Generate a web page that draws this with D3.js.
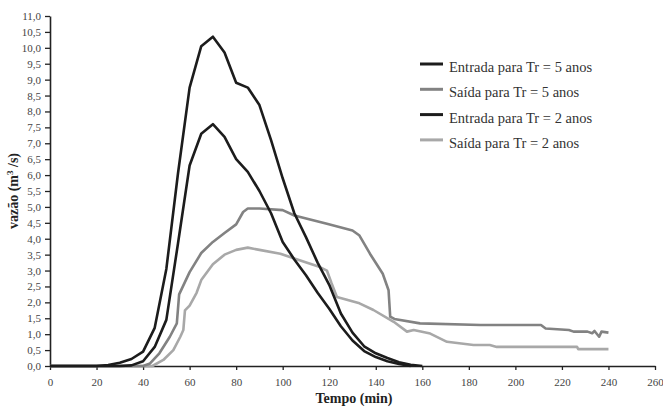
<!DOCTYPE html>
<html>
<head>
<meta charset="utf-8">
<script src="https://cdn.jsdelivr.net/npm/d3@7"></script>
<style>
  body { margin: 0; background: #fff; }
  text { font-family: "Liberation Serif", "DejaVu Serif", serif; }
</style>
</head>
<body>
<div id="chart-area"></div>
<script>
// hydrographs: entrada / saída for Tr = 5 and Tr = 2 anos
var entrada5T = [0, 20, 25, 30, 35, 40, 45, 50, 55, 60, 65, 70, 75, 80, 85, 90, 95, 100, 105, 110, 115, 120, 125, 130, 135, 140, 145, 150, 155, 160];
var entrada5Q = [0, 0, 0.03, 0.1, 0.22, 0.45, 1.2, 3.05, 6.05, 8.75, 10.05, 10.35, 9.85, 8.9, 8.75, 8.2, 7.1, 5.9, 4.8, 4.05, 3.25, 2.55, 1.65, 1.05, 0.62, 0.4, 0.25, 0.12, 0.04, 0];

var saida5T = [0, 40, 43, 47, 51.5, 54.5, 55.5, 60, 65, 70, 75, 80, 83, 85, 90, 100, 105, 119, 130, 133, 137.5, 143, 145.5, 146.2, 148, 159, 185, 211, 213, 223, 225, 231, 233, 234, 236, 237, 240];
var saida5Q = [0, 0, 0.08, 0.4, 0.92, 1.34, 2.25, 2.95, 3.55, 3.9, 4.18, 4.45, 4.84, 4.95, 4.95, 4.9, 4.73, 4.47, 4.26, 4.1, 3.53, 2.9, 2.38, 1.55, 1.48, 1.34, 1.29, 1.29, 1.18, 1.13, 1.08, 1.08, 1.03, 1.1, 0.92, 1.08, 1.05];

var entrada2T = [0, 30, 35, 40, 45, 50, 55, 60, 65, 70, 75, 80, 85, 90, 95, 100, 105, 110, 115, 120, 125, 130, 135, 140, 145, 150, 155];
var entrada2Q = [0, 0, 0.02, 0.15, 0.6, 1.45, 3.85, 6.3, 7.3, 7.6, 7.2, 6.5, 6.1, 5.5, 4.8, 3.9, 3.35, 2.85, 2.3, 1.8, 1.25, 0.8, 0.47, 0.28, 0.15, 0.06, 0];

var saida2T = [0, 44, 48.7, 53, 56, 57.3, 58, 60, 63, 65, 70, 75, 80, 85, 90, 99, 105, 116, 119, 121, 123.3, 133, 139, 147.7, 153.4, 156.3, 163.4, 170.6, 182, 189, 192, 226.5, 227, 240];
var saida2Q = [0, 0, 0.19, 0.5, 0.92, 1.13, 1.75, 1.9, 2.3, 2.7, 3.2, 3.5, 3.65, 3.72, 3.65, 3.53, 3.38, 3.11, 3.0, 2.6, 2.17, 1.97, 1.76, 1.39, 1.08, 1.13, 1.02, 0.76, 0.66, 0.66, 0.6, 0.6, 0.53, 0.53];

var seriesNames = ["Entrada para Tr = 5 anos", "Saída para Tr = 5 anos", "Entrada para Tr = 2 anos", "Saída para Tr = 2 anos"];
var seriesColours = ["#1c1c1c", "#828282", "#1c1c1c", "#a8a8a8"];

var xTicks = d3.range(0, 261, 20);
var yTicks = d3.range(0, 11.01, 0.5);

var width = 663, height = 415;
var margin = { left: 50, right: 8, top: 16, bottom: 49 };

var svg = d3.select("#chart-area")
    .append("svg")
    .attr("width", width)
    .attr("height", height);

var x = d3.scaleLinear()
    .domain([0, 260])
    .range([margin.left, width - margin.right]);

var y = d3.scaleLinear()
    .domain([0, 11])
    .range([height - margin.bottom, margin.top]);

var fmt = function(d){ return d3.format(".1f")(d).replace(".", ","); };

// Y Axis
var yAxisG = svg.append("g")
    .attr("transform", "translate(" + margin.left + ",0)")
    .call(d3.axisLeft(y).tickValues(yTicks).tickFormat(fmt).tickSize(5).tickPadding(4).tickSizeOuter(0));

// X Axis
var xAxisG = svg.append("g")
    .attr("transform", "translate(0," + (height - margin.bottom) + ")")
    .call(d3.axisBottom(x).tickValues(xTicks).tickSize(4).tickPadding(8).tickSizeOuter(0));

[yAxisG, xAxisG].forEach(function(a){
    a.select(".domain").attr("stroke", "#222").attr("stroke-width", 1.6);
    a.selectAll(".tick line").attr("stroke", "#222").attr("stroke-width", 1.3);
    a.selectAll(".tick text")
        .attr("fill", "#444")
        .style("font-family", "'Liberation Serif', serif")
        .style("font-size", "11px");
});

// curves
var line = d3.line()
    .x(function(d){ return x(d[0]); })
    .y(function(d){ return y(d[1]); });

var series = [
    d3.zip(entrada5T, entrada5Q),
    d3.zip(saida5T, saida5Q),
    d3.zip(entrada2T, entrada2Q),
    d3.zip(saida2T, saida2Q)
];

// draw light ones first so black stays on top
[3, 1, 2, 0].forEach(function(i){
    svg.append("path")
        .datum(series[i])
        .attr("fill", "none")
        .attr("stroke", seriesColours[i])
        .attr("stroke-width", 2.6)
        .attr("stroke-linejoin", "round")
        .attr("d", line);
});

// axis titles
svg.append("text")
    .attr("x", 354)
    .attr("y", 403)
    .attr("text-anchor", "middle")
    .style("font-weight", "bold")
    .style("font-size", "14px")
    .attr("fill", "#222")
    .text("Tempo (min)");

var yTitle = svg.append("text")
    .attr("transform", "translate(18,191) rotate(-90)")
    .attr("text-anchor", "middle")
    .style("font-weight", "bold")
    .style("font-size", "14px")
    .attr("fill", "#222");
yTitle.append("tspan").text("vazão (m");
yTitle.append("tspan").attr("dy", -5).style("font-size", "9px").text("3");
yTitle.append("tspan").attr("dy", 5).text(" /s)");

// legend
var legend = svg.append("g")
    .attr("transform", "translate(420,64)");
seriesNames.forEach(function(name, i){
    var row = legend.append("g")
        .attr("transform", "translate(0," + (i * 25.3) + ")");
    row.append("line")
        .attr("x1", 0).attr("x2", 23)
        .attr("y1", 0).attr("y2", 0)
        .attr("stroke", seriesColours[i])
        .attr("stroke-width", 3);
    row.append("text")
        .attr("x", 29)
        .attr("y", 8)
        .style("font-size", "14.5px")
        .attr("fill", "#333")
        .text(name);
});
</script>
</body>
</html>
